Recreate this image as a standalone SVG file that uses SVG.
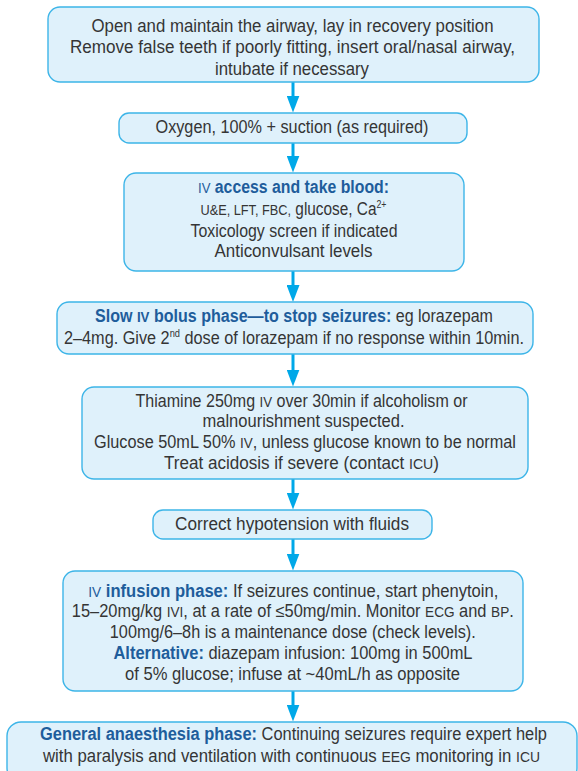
<svg xmlns="http://www.w3.org/2000/svg" width="578" height="771" viewBox="0 0 578 771">
<defs>
<style>
.box{fill:#dff1fb;stroke:#3db5e8;stroke-width:1.4}
.t{font-family:"Liberation Sans Narrow","Liberation Sans",Arial,sans-serif;font-size:17.5px;fill:#353535;text-anchor:middle}
.b{font-weight:bold;fill:#1e5d9b}
.sc{font-size:14.5px}
.sup{font-size:10px}
.conn line{stroke:#00a8e8;stroke-width:3}
</style>
<marker id="ah" viewBox="0 0 17 13" refX="5" refY="6.5" markerWidth="17" markerHeight="13" markerUnits="userSpaceOnUse" orient="auto">
<path d="M0,0 L17,6.5 L0,13 Z" fill="#00a8e8"/>
</marker>
</defs>
<rect width="578" height="771" fill="#ffffff"/>

<g id="connectors" class="conn">
<line x1="293" y1="82" x2="293" y2="100.5" marker-end="url(#ah)"/>
<line x1="293" y1="143" x2="293" y2="160.5" marker-end="url(#ah)"/>
<line x1="293" y1="271" x2="293" y2="290" marker-end="url(#ah)"/>
<line x1="293" y1="354" x2="293" y2="374.5" marker-end="url(#ah)"/>
<line x1="293" y1="479" x2="293" y2="497.5" marker-end="url(#ah)"/>
<line x1="293" y1="539" x2="293" y2="558.5" marker-end="url(#ah)"/>
<line x1="293" y1="691" x2="293" y2="709.5" marker-end="url(#ah)"/>
</g>

<g id="airway">
<rect class="box" x="48" y="7" width="491" height="75" rx="12"/>
<text class="t" x="292.5" y="31.5" textLength="402" lengthAdjust="spacingAndGlyphs">Open and maintain the airway, lay in recovery position</text>
<text class="t" x="292.5" y="53" textLength="445" lengthAdjust="spacingAndGlyphs">Remove false teeth if poorly fitting, insert oral/nasal airway,</text>
<text class="t" x="292" y="74.5" textLength="154" lengthAdjust="spacingAndGlyphs">intubate if necessary</text>
</g>

<g id="oxygen">
<rect class="box" x="119" y="113" width="348" height="30" rx="10"/>
<text class="t" x="292" y="133" textLength="273" lengthAdjust="spacingAndGlyphs">Oxygen, 100% + suction (as required)</text>
</g>

<g id="iv-access">
<rect class="box" x="124" y="173" width="340" height="98" rx="12"/>
<text class="t" x="293.5" y="193" textLength="191" lengthAdjust="spacingAndGlyphs"><tspan class="sc" fill="#1e5d9b">IV</tspan><tspan class="b"> access and take blood:</tspan></text>
<text class="t" x="293.5" y="214.5" textLength="186" lengthAdjust="spacingAndGlyphs"><tspan class="sc">U&amp;E, LFT, FBC,</tspan> glucose, Ca<tspan class="sup" dy="-7">2+</tspan></text>
<text class="t" x="294" y="236.5" textLength="207" lengthAdjust="spacingAndGlyphs">Toxicology screen if indicated</text>
<text class="t" x="293.5" y="257" textLength="158" lengthAdjust="spacingAndGlyphs">Anticonvulsant levels</text>
</g>

<g id="bolus">
<rect class="box" x="57" y="302" width="476" height="52" rx="12"/>
<text class="t" x="294" y="322" textLength="398" lengthAdjust="spacingAndGlyphs"><tspan class="b">Slow </tspan><tspan class="b sc">IV</tspan><tspan class="b"> bolus phase—to stop seizures:</tspan> eg lorazepam</text>
<text class="t" x="294" y="343.5" textLength="460" lengthAdjust="spacingAndGlyphs">2–4mg. Give 2<tspan class="sup" dy="-7">nd</tspan><tspan dy="7"> dose of lorazepam if no response within 10min.</tspan></text>
</g>

<g id="thiamine">
<rect class="box" x="82" y="387" width="446" height="92" rx="12"/>
<text class="t" x="301.5" y="406.5" textLength="332" lengthAdjust="spacingAndGlyphs">Thiamine 250mg <tspan class="sc">IV</tspan> over 30min if alcoholism or</text>
<text class="t" x="303.5" y="427" textLength="202" lengthAdjust="spacingAndGlyphs">malnourishment suspected.</text>
<text class="t" x="305" y="448" textLength="422" lengthAdjust="spacingAndGlyphs">Glucose 50mL 50% <tspan class="sc">IV</tspan>, unless glucose known to be normal</text>
<text class="t" x="301.5" y="468.5" textLength="275" lengthAdjust="spacingAndGlyphs">Treat acidosis if severe (contact <tspan class="sc">ICU</tspan>)</text>
</g>

<g id="hypotension">
<rect class="box" x="153" y="510" width="279" height="29" rx="10"/>
<text class="t" x="292" y="529.5" textLength="234" lengthAdjust="spacingAndGlyphs">Correct hypotension with fluids</text>
</g>

<g id="infusion">
<rect class="box" x="63" y="571" width="460" height="120" rx="12"/>
<text class="t" x="293.3" y="596.5" textLength="410" lengthAdjust="spacingAndGlyphs"><tspan class="sc" fill="#1e5d9b">IV</tspan><tspan class="b"> infusion phase:</tspan> If seizures continue, start phenytoin,</text>
<text class="t" x="292.8" y="617" textLength="442" lengthAdjust="spacingAndGlyphs">15–20mg/kg <tspan class="sc">IVI</tspan>, at a rate of ≤50mg/min. Monitor <tspan class="sc">ECG</tspan> and <tspan class="sc">BP</tspan>.</text>
<text class="t" x="292.8" y="637.5" textLength="366" lengthAdjust="spacingAndGlyphs">100mg/6–8h is a maintenance dose (check levels).</text>
<text class="t" x="293" y="658.5" textLength="359" lengthAdjust="spacingAndGlyphs"><tspan class="b">Alternative:</tspan> diazepam infusion: 100mg in 500mL</text>
<text class="t" x="292.5" y="679.5" textLength="335" lengthAdjust="spacingAndGlyphs">of 5% glucose; infuse at ~40mL/h as opposite</text>
</g>

<g id="anaesthesia">
<rect class="box" x="7" y="722" width="570" height="60" rx="14"/>
<text class="t" x="293.5" y="740" textLength="507" lengthAdjust="spacingAndGlyphs"><tspan class="b">General anaesthesia phase:</tspan> Continuing seizures require expert help</text>
<text class="t" x="291.5" y="762" textLength="497" lengthAdjust="spacingAndGlyphs">with paralysis and ventilation with continuous <tspan class="sc">EEG</tspan> monitoring in <tspan class="sc">ICU</tspan></text>
</g>
</svg>
